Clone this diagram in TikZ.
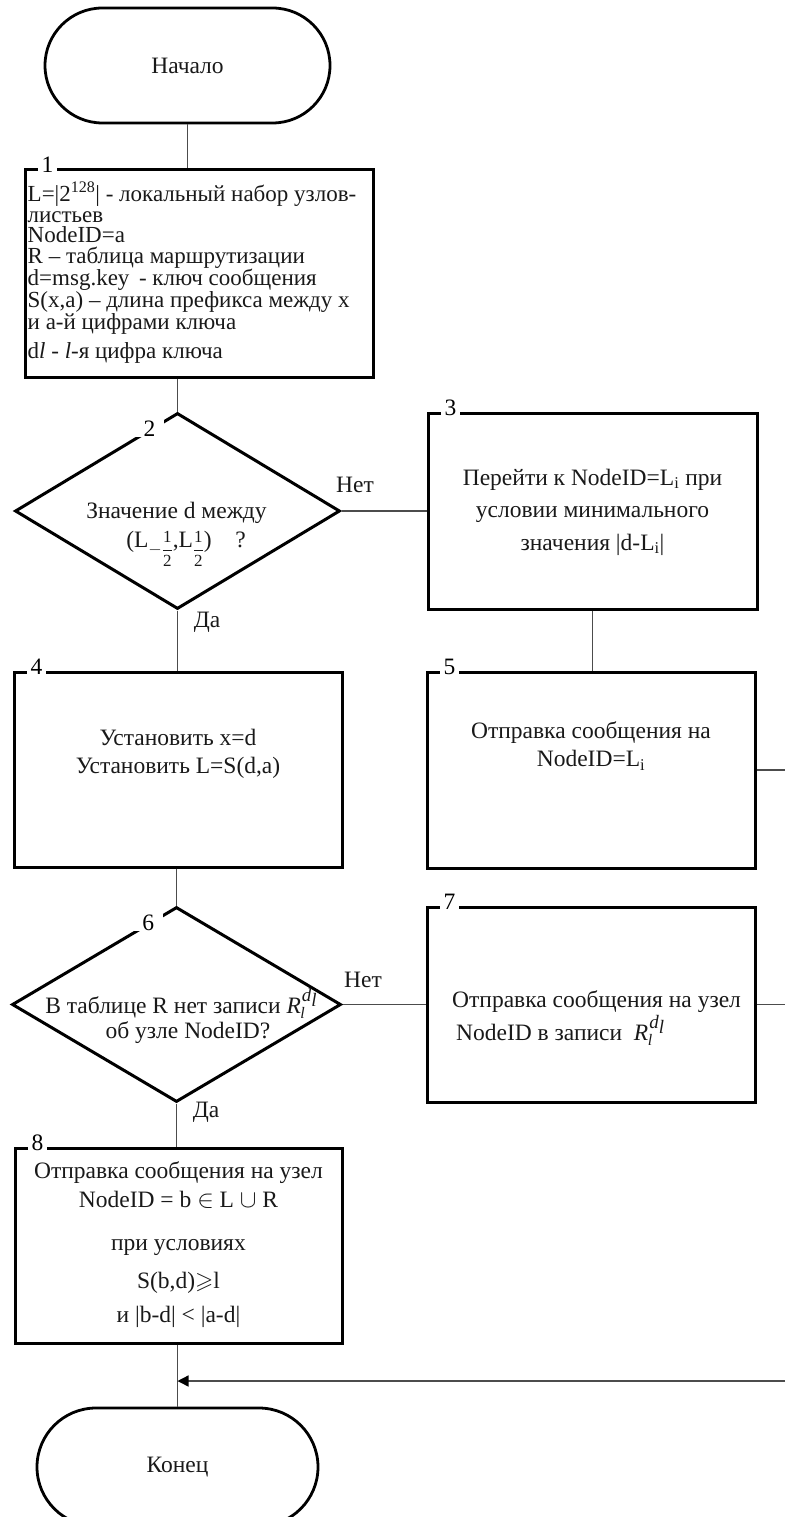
\documentclass[tikz,border=0pt]{standalone}
\usepackage{amsmath,amssymb}
\usepackage{fontspec}
\setmainfont{Liberation Serif}
\usetikzlibrary{shapes.geometric,shapes.misc,arrows.meta,calc}

% R with subscript l and superscript d_l, set from the text font
\newcommand{\Rdl}{\textit{R}\kern-0.5pt\raisebox{-5pt}{\fontsize{16}{16}\selectfont\textit{l}}\kern-3pt\raisebox{12pt}{\fontsize{19}{19}\selectfont\textit{d}\raisebox{-5pt}{\textit{l}}}}
% lowered index "one half", stacked, optionally with a minus sign
\newcommand{\hlfidx}[1]{\raisebox{-7.5pt}{\fontsize{17}{17}\selectfont$#1\genfrac{}{}{0.6pt}{0}{\text{1}}{\text{2}}$}}

\begin{document}
\begin{tikzpicture}[x=1pt,y=-1pt,
  font=\fontsize{23.5}{23.5}\selectfont,
  box/.style={draw=black, line width=3pt, rectangle, inner sep=0pt},
  term/.style={draw=black, line width=2.8pt, rounded rectangle, inner sep=0pt},
  dia/.style={draw=black, line width=3pt, diamond, inner sep=0pt},
  conn/.style={draw=black!70, line width=1.4pt},
  num/.style={fill=white, inner xsep=4pt, inner ysep=1pt, anchor=base},
  dnum/.style={fill=white, inner xsep=9pt, inner ysep=1pt},
  txt/.style={inner sep=0pt, align=center, text=black!90},
  lbl/.style={inner sep=0pt, text=black!90},
]
\useasboundingbox (0,0) rectangle (785,1517);
\clip (0,0) rectangle (785,1517);

% ---------- shapes ----------
\node[term, minimum width=285, minimum height=115] (start) at (187.5,65.5) {};
\node[txt] (tstart) at (start.center) {Начало};

\node[box, minimum width=348, minimum height=207] (b1) at (199,273.5) {};
\node[anchor=west, inner sep=0pt, align=left, text=black!90,
      font=\fontsize{23}{20.5}\selectfont] (t1) at (27.5,273)
  {L=|2\textsuperscript{128}| - локальный набор узлов-\\
   листьев\\
   NodeID=a\\
   R – таблица маршрутизации\\
   d=msg.key\, - ключ сообщения\\
   S(x,a) – длина префикса между x\\
   и а-й цифрами ключа\\[7.5pt]
   d\textit{l} - \textit{l}-я цифра ключа};

\node[dia, minimum width=325, minimum height=196] (d2) at (177.5,511) {};
\node[txt] (t2a) at (176.5,513) {Значение d между};
\node[txt, anchor=base] (t2b) at (186,547)
  {(L\hlfidx{-},L\hlfidx{})\enspace\enspace ?};

\node[box, minimum width=329, minimum height=196] (b3) at (592.5,511) {};
\node[txt] (t3) at (592.5,512)
  {Перейти к NodeID=L\textsubscript{i} при\\[9pt]
   условии минимального\\[9pt]
   значения |d-L\textsubscript{i}|};

\node[box, minimum width=328, minimum height=195] (b4) at (178,769.5) {};
\node[txt] (t4) at (178,754)
  {Установить x=d\\[4.5pt] Установить L=S(d,a)};

\node[box, minimum width=328, minimum height=196] (b5) at (591,770) {};
\node[txt] (t5) at (591,746)
  {Отправка сообщения на\\[4.5pt] NodeID=L\textsubscript{i}};

\node[dia, minimum width=329, minimum height=195] (d6) at (176.5,1004.5) {};
\node[txt] (t6) at (181,1016)
  {В таблице R нет записи \Rdl\\[1pt]
   \hspace*{14pt}об узле NodeID?};

\node[box, minimum width=328, minimum height=195] (b7) at (591,1004.5) {};
\node[anchor=west, inner sep=0pt, align=left, text=black!90] (t7) at (452,1018)
  {Отправка сообщения на узел\\[1pt]
   \,NodeID в записи\ \ \Rdl};

\node[box, minimum width=327, minimum height=195] (b8) at (178.5,1245.5) {};
\node[txt] (t8) at (178.5,1245)
  {Отправка сообщения на узел\\[5.5pt]
   NodeID = b $\in$ L $\cup$ R\\[19.5pt]
   при условиях\\[14.5pt]
   S(b,d)$\geqslant$l\\[10.5pt]
   и |b-d| < |a-d|};

\node[term, minimum width=281, minimum height=118] (end) at (177.5,1467) {};
\node[txt] (tend) at (end.center) {Конец};

% ---------- connectors ----------
\draw[conn] (start.south) -- (start.south |- b1.north);
\draw[conn] (d2.north |- b1.south) -- (d2.north);
\draw[conn] (d2.east) -- (b3.west);
\draw[conn] (b3.south) -- (b3.south |- b5.north);
\draw[conn] (d2.south) -- (d2.south |- b4.north);
\coordinate (r5) at (785,770);
\draw[conn] (b5.east) -- (r5);
\draw[conn] (d6.north |- b4.south) -- (d6.north);
\draw[conn] (d6.east) -- (b7.west);
\coordinate (r7) at (785,1004.5);
\draw[conn] (b7.east) -- (r7);
\draw[conn] (d6.south) -- (d6.south |- b8.north);
\draw[conn] (end.north |- b8.south) -- (end.north);
\coordinate (rin) at (785,1381);
\coordinate (jn) at (end.north |- rin);
\draw[conn, -{Triangle[length=11pt,width=11pt,black]}] (rin) -- (jn);

% ---------- branch labels ----------
\node[lbl] (no2) at (355,485) {Нет};
\node[lbl] (yes2) at (207,622) {Да};
\node[lbl] (no6) at (363,980) {Нет};
\node[lbl] (yes6) at (206,1112) {Да};

% ---------- block numbers ----------
\node[num] (n1) at ($(b1.north west)+(24,4)$) {1};
\node[num] (n3) at ($(b3.north west)+(24,4)$) {3};
\node[num] (n4) at ($(b4.north west)+(24,4)$) {4};
\node[num] (n5) at ($(b5.north west)+(24,4)$) {5};
\node[num] (n7) at ($(b7.north west)+(24,4)$) {7};
\node[num] (n8) at ($(b8.north west)+(24,4)$) {8};
\path (d2.north) -- (d2.west) node[dnum, pos=0.17] (n2) {2};
\path (d6.north) -- (d6.west) node[dnum, pos=0.17] (n6) {6};
\end{tikzpicture}
\end{document}
